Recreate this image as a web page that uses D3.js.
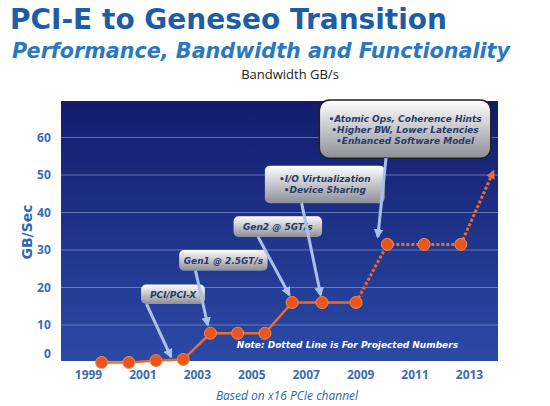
<!DOCTYPE html>
<html><head><meta charset="utf-8">
<script src="https://cdn.jsdelivr.net/npm/d3@7"></script>
<style>body{margin:0;background:#fff}</style></head>
<body><svg id="c" width="550" height="406"></svg>
<script>
const pointYears = [1999.5,2000.5,2001.5,2002.5,2003.5,2004.5,2005.5,2006.5,2007.6,2008.85,2010,2011.35,2012.7];
const pointValues = [0,0,0.5,0.8,7.8,7.8,7.8,16,16,16,31.5,31.5,31.5];
const projectedEnd = {year:2013.9, value:51};
const solidCount = 10; // points with solid line
const yTicks = [0,10,20,30,40,50,60];
const xTicks = [1999,2001,2003,2005,2007,2009,2011,2013];
const callouts = [
 {lines:["PCI/PCI-X"], x0:2000.95,x1:2003.3, v0:20.8,v1:15.6, from:[2001.15,15.6], to:[2002.05,1.5], ar:0},
 {lines:["Gen1 @ 2.5GT/s"], x0:2002.35,x1:2005.6, v0:30,v1:24.5, from:[2002.95,24.5], to:[2003.4,10], ar:0},
 {lines:["Gen2 @ 5GT/s"], x0:2004.35,x1:2007.6, v0:39,v1:33.5, from:[2005.25,33.5], to:[2006.4,18], ar:0},
 {lines:["•I/O Virtualization","•Device Sharing"], x0:2005.5,x1:2009.9, v0:52.5,v1:42.5, from:[2006.85,42.5], to:[2007.55,18], ar:0},
 {lines:["•Atomic Ops, Coherence Hints","•Higher BW, Lower Latencies","•Enhanced Software Model"], x0:2007.5,x1:2013.8, v0:70,v1:54.5, from:[2009.95,54.5], to:[2009.65,33.5], ar:1}
];
const svg = d3.select("#c");
const x = d3.scaleLinear().domain([1999,2013]).range([88,469]);
const y = d3.scaleLinear().domain([0,60]).range([362.5,137.5]);
const defs = svg.append("defs");
const g1 = defs.append("linearGradient").attr("id","bg").attr("x1",0).attr("x2",0).attr("y1",0).attr("y2",1);
g1.append("stop").attr("offset","0%").attr("stop-color","#131c6c");
g1.append("stop").attr("offset","100%").attr("stop-color","#2b4aa6");
const g2 = defs.append("linearGradient").attr("id","box").attr("x1",0).attr("x2",0).attr("y1",0).attr("y2",1);
g2.append("stop").attr("offset","0%").attr("stop-color","#ffffff");
g2.append("stop").attr("offset","100%").attr("stop-color","#8c8f96");
defs.append("marker").attr("id","ah").attr("viewBox","0 0 10 10").attr("refX",8).attr("refY",5)
 .attr("markerWidth",3.2).attr("markerHeight",3.2).attr("orient","auto")
 .append("path").attr("d","M0,0L10,5L0,10Z").attr("fill","#a9c1ea");
defs.append("marker").attr("id","oh").attr("viewBox","0 0 10 10").attr("refX",8).attr("refY",5)
 .attr("markerWidth",3).attr("markerHeight",3).attr("orient","auto")
 .append("path").attr("d","M0,0L10,5L0,10Z").attr("fill","#ee6a2a");

svg.append("text").attr("x",10).attr("y",29).attr("textLength",437).attr("lengthAdjust","spacingAndGlyphs")
 .style("font","bold 29px 'DejaVu Sans'").attr("fill","#1d5ca6").text("PCI-E to Geneseo Transition");
svg.append("text").attr("x",12).attr("y",58).attr("textLength",498).attr("lengthAdjust","spacingAndGlyphs")
 .style("font","italic bold 22px 'DejaVu Sans'").attr("fill","#2a78c0").text("Performance, Bandwidth and Functionality");
svg.append("text").attr("x",290).attr("y",79).attr("text-anchor","middle")
 .style("font","13px 'Open Sans'").attr("fill","#222").text("Bandwidth GB/s");

svg.append("rect").attr("x",61).attr("y",101).attr("width",437).attr("height",260).attr("fill","url(#bg)");
svg.selectAll(".grid").data(yTicks.filter(d=>d>0)).join("line")
 .attr("x1",61).attr("x2",498).attr("y1",d=>y(d)).attr("y2",d=>y(d))
 .attr("stroke","#9fb0e0").attr("stroke-opacity",0.55).attr("stroke-width",1);

const ya = svg.append("g").attr("transform","translate(58,0)")
 .call(d3.axisLeft(y).tickValues(yTicks).tickSize(0).tickPadding(0).tickFormat(d3.format("d")));
ya.select(".domain").remove();
ya.selectAll("text").attr("dy",d=>d===0?"-0.45em":"0.32em").attr("dx","-0.6em")
 .style("font","bold 12px 'Open Sans'").attr("fill","#3a6cb4");
const xa = svg.append("g").attr("transform","translate(0,370)")
 .call(d3.axisBottom(x).tickValues(xTicks).tickSize(0).tickPadding(0).tickFormat(d3.format("d")));
xa.select(".domain").remove();
xa.selectAll("text").style("font","bold 12px 'Open Sans'").attr("fill","#3a6cb4");
svg.append("text").attr("transform","translate(32,232) rotate(-90)").attr("text-anchor","middle")
 .style("font","bold 14px 'DejaVu Sans'").attr("fill","#2a68b4").text("GB/Sec");
svg.append("text").attr("x",287).attr("y",400).attr("text-anchor","middle")
 .style("font","italic 12px 'Open Sans'").attr("fill","#2a68b4").text("Based on x16 PCIe channel");

callouts.forEach(c=>{
  const bx=x(c.x0), by=y(c.v0), bw=x(c.x1)-x(c.x0), bh=y(c.v1)-y(c.v0);
  svg.append("rect").attr("x",bx).attr("y",by).attr("width",bw).attr("height",bh).attr("rx",c.ar?10:5)
   .attr("fill","url(#box)").attr("stroke",c.ar?"#222":"none").attr("stroke-width",1.5);
  const n=c.lines.length, lh=11;
  c.lines.forEach((t,i)=>svg.append("text").attr("x",bx+bw/2).attr("y",by+bh/2+(i-(n-1)/2)*lh+3.5)
   .attr("text-anchor","middle").style("font","italic bold 9px 'DejaVu Sans'").attr("fill","#2a3b6a").text(t));
  svg.append("line").attr("x1",x(c.from[0])).attr("y1",y(c.from[1])).attr("x2",x(c.to[0])).attr("y2",y(c.to[1]))
   .attr("stroke","#a9c1ea").attr("stroke-width",3).attr("marker-end","url(#ah)");
});

const pts = pointYears.map((d,i)=>[d,pointValues[i]]);
const line = d3.line().x(d=>x(d[0])).y(d=>y(d[1]));
svg.append("path").attr("d",line(pts.slice(0,solidCount))).attr("fill","none").attr("stroke","#ee6a2a").attr("stroke-width",2.5);
svg.append("path").attr("d",line(pts.slice(solidCount-1))).attr("fill","none").attr("stroke","#ee6a2a")
 .attr("stroke-width",3).attr("stroke-dasharray","3,2");
svg.append("line").attr("x1",x(pts[pts.length-1][0])).attr("y1",y(pts[pts.length-1][1]))
 .attr("x2",x(projectedEnd.year)).attr("y2",y(projectedEnd.value))
 .attr("stroke","#ee6a2a").attr("stroke-width",3).attr("stroke-dasharray","3,2").attr("marker-end","url(#oh)");
svg.selectAll(".pt").data(pts).join("circle").attr("cx",d=>x(d[0])).attr("cy",d=>y(d[1])).attr("r",6)
 .attr("fill","#e8561e").attr("stroke","#f58a50").attr("stroke-width",1);

svg.append("text").attr("x",458).attr("y",348).attr("text-anchor","end")
 .style("font","italic bold 9px 'DejaVu Sans'").attr("fill","#fff").text("Note: Dotted Line is For Projected Numbers");
</script></body></html>
